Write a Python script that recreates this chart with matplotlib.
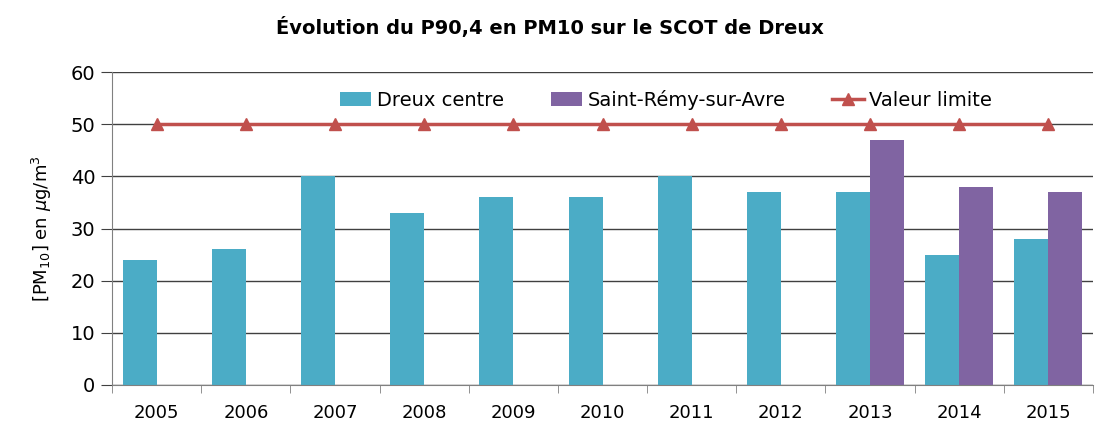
import numpy as np
import matplotlib.pyplot as plt

annees = ['2005', '2006', '2007', '2008', '2009', '2010', '2011', '2012', '2013', '2014', '2015']
dreux = [24, 26, 40, 33, 36, 36, 40, 37, 37, 25, 28]
saint_remy = [np.nan] * 8 + [47, 38, 37]
limite = [50] * 11

fig = plt.figure(figsize=(10.99, 4.32), dpi=100)
ax = fig.add_axes([0.102, 0.109, 0.8925, 0.724])

x = np.arange(len(annees))
w = 0.38
b1 = ax.bar(x - w / 2, dreux, w, color='#4BACC6', label='Dreux centre', zorder=2)
b2 = ax.bar(x + w / 2, saint_remy, w, color='#8064A2', label='Saint-Rémy-sur-Avre', zorder=2)
l1, = ax.plot(x, limite, color='#C0504D', lw=2.5, marker='^', ms=8, label='Valeur limite', zorder=3)

ax.set_xlim(-0.5, len(annees) - 0.5)
ax.set_ylim(0, 60)
ax.set_yticks(range(0, 61, 10))
ax.grid(axis='y', color='#404040', lw=1, zorder=0)
ax.set_axisbelow(True)

ax.set_xticks(x)
ax.set_xticklabels(annees)
ax.set_xticks(np.arange(-0.5, len(annees)), minor=True)
ax.tick_params(axis='x', which='major', length=0, pad=14, labelsize=13)
ax.tick_params(axis='x', which='minor', length=6, color='#808080', direction='out')
ax.tick_params(axis='y', length=8, color='#404040', direction='out', labelsize=14, pad=4)

for s in ['top', 'right']:
    ax.spines[s].set_visible(False)
ax.spines['left'].set_color('#808080')
ax.spines['bottom'].set_color('#808080')

ax.set_ylabel('[PM$_{10}$] en $\\mu$g/m$^3$', fontsize=13, labelpad=12)
fig.suptitle('Évolution du P90,4 en PM10 sur le SCOT de Dreux', fontsize=14,
             fontweight='bold', y=0.96)

ax.legend([b1, b2, l1], ['Dreux centre', 'Saint-Rémy-sur-Avre', 'Valeur limite'],
          loc='upper center', bbox_to_anchor=(0.565, 1.0), ncol=3, frameon=False,
          fontsize=14, handlelength=1.6, columnspacing=2.4, handletextpad=0.3)

plt.savefig('out.png', dpi=100)
